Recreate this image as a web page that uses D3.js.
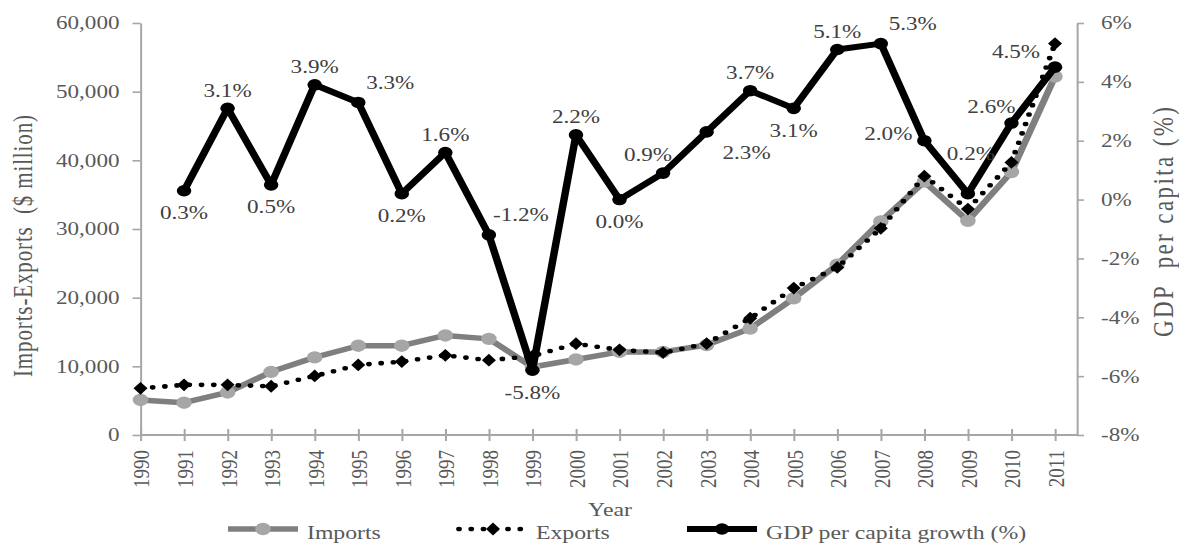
<!DOCTYPE html>
<html>
<head>
<meta charset="utf-8">
<script src="https://cdn.jsdelivr.net/npm/d3@7/dist/d3.min.js"></script>
<style>
  body { margin: 0; background: #fff; }
  svg { display: block; }
  text { font-family: "Liberation Serif", "Times New Roman", serif; }
</style>
</head>
<body>
<svg id="chart"></svg>
<script>
const years = [1990, 1991, 1992, 1993, 1994, 1995, 1996, 1997, 1998, 1999, 2000,
               2001, 2002, 2003, 2004, 2005, 2006, 2007, 2008, 2009, 2010, 2011]
const imports = [5100, 4700, 6200, 9200, 11300, 13000, 13000, 14500, 14000, 9900, 11000,
                 12100, 12100, 13100, 15500, 19900, 24800, 31100, 36900, 31200, 38300, 52200]
const exportsVals = [6800, 7300, 7300, 7100, 8600, 10200, 10700, 11600, 10900, 11500, 13300,
                     12400, 12000, 13300, 17000, 21400, 24400, 30100, 37700, 32900, 39700, 57000]
const gdpGrowth = [null, 0.3, 3.1, 0.5, 3.9, 3.3, 0.2, 1.6, -1.2, -5.8, 2.2,
                   0.0, 0.9, 2.3, 3.7, 3.1, 5.1, 5.3, 2.0, 0.2, 2.6, 4.5]
// where each growth label sits relative to its point
const gdpLabelSpot = ['', 'b', 'a', 'b', 'a', 'ar', 'b', 'a', 'ar', 'b', 'a',
                      'b', 'aL', 'br', 'a', 'b', 'a', 'ar', 'l', 'aa', 'al', 'L']
const leftTicks = [0, 10000, 20000, 30000, 40000, 50000, 60000]
const rightTicks = [-8, -6, -4, -2, 0, 2, 4, 6]
const seriesNames = ['Imports', 'Exports', 'GDP per capita growth (%)']

// the reference is stretched sideways, so draw in narrower units and let the viewBox stretch it
const sx = 1.25
const px = v => v / sx
const width = 1179, height = 544

const svg = d3.select('#chart')
    .attr('width', width)
    .attr('height', height)
    .attr('viewBox', `0 0 ${width / sx} ${height}`)
    .attr('preserveAspectRatio', 'none')

const axisColor = '#a6a6a6', textColor = '#595959'

let x = d3.scalePoint().domain(years).range([px(140.5), px(1055)])
let yL = d3.scaleLinear().domain([0, 60000]).range([435, 23])
let yR = d3.scaleLinear().domain([-8, 6]).range([435, 23])

// left axis
let gL = svg.append('g')
    .attr('transform', `translate(${px(140.5)},0)`)
    .call(d3.axisLeft(yL).tickValues(leftTicks).tickFormat(d3.format(','))
        .tickSizeInner(px(8)).tickSizeOuter(0).tickPadding(px(13)))
// right axis
let gR = svg.append('g')
    .attr('transform', `translate(${px(1077)},0)`)
    .call(d3.axisRight(yR).tickValues(rightTicks).tickFormat(d => d + '%')
        .tickSizeInner(px(7)).tickSizeOuter(0).tickPadding(px(17)))

;[gL, gR].forEach(g => {
    g.select('.domain').attr('stroke', axisColor).attr('stroke-width', 1.6)
    g.selectAll('.tick line').attr('stroke', axisColor).attr('stroke-width', 1.6)
    g.selectAll('.tick text').attr('fill', textColor).attr('font-size', 18.5)
        .style('font-family', '"Liberation Serif", "Times New Roman", serif')
})

// bottom axis, line runs on to the right axis
let gX = svg.append('g')
    .attr('transform', 'translate(0,435)')
    .call(d3.axisBottom(x).tickSizeOuter(0).tickSizeInner(6))
gX.select('.domain').remove()
gX.append('line')
    .attr('x1', px(140.5)).attr('x2', px(1077))
    .attr('stroke', axisColor).attr('stroke-width', 1.8)
gX.selectAll('.tick line')
    .attr('y1', -6).attr('y2', 6)
    .attr('stroke', axisColor).attr('stroke-width', 1.6)
gX.selectAll('.tick text')
    .attr('transform', 'rotate(-90)')
    .attr('text-anchor', 'end')
    .attr('x', -15).attr('y', 0).attr('dy', '0.35em')
    .attr('fill', textColor).attr('font-size', 19)
    .style('font-family', '"Liberation Serif", "Times New Roman", serif')

// axis titles
svg.append('text')
    .attr('transform', `translate(${px(22.5)},246) rotate(-90)`)
    .attr('text-anchor', 'middle').attr('dy', '0.35em')
    .attr('font-size', 21).attr('fill', textColor)
    .attr('textLength', 262)
    .style('white-space', 'pre')
    .text('Imports-Exports  ($ million)')
svg.append('text')
    .attr('transform', `translate(${px(1163)},222) rotate(-90)`)
    .attr('text-anchor', 'middle').attr('dy', '0.35em')
    .attr('font-size', 23).attr('fill', textColor)
    .attr('textLength', 230)
    .style('white-space', 'pre')
    .text('GDP  per capita (%)')
svg.append('text')
    .attr('x', px(610)).attr('y', 516)
    .attr('text-anchor', 'middle')
    .attr('font-size', 19).attr('fill', textColor)
    .text('Year')

const diamond = 'M0,-6.4L5.6,0L0,6.4L-5.6,0Z'

// imports
let lineL = d3.line().x((d, i) => x(years[i])).y(d => yL(d))
svg.append('path')
    .attr('d', lineL(imports))
    .attr('fill', 'none').attr('stroke', '#7f7f7f').attr('stroke-width', 5.5)
    .attr('stroke-linejoin', 'round')
svg.selectAll('.imp')
    .data(imports)
    .enter()
    .append('circle')
        .attr('class', 'imp')
        .attr('cx', (d, i) => x(years[i]))
        .attr('cy', d => yL(d))
        .attr('r', 6.2)
        .attr('fill', '#a6a6a6')

// exports
svg.append('path')
    .attr('d', lineL(exportsVals))
    .attr('fill', 'none').attr('stroke', '#000').attr('stroke-width', 4.6)
    .attr('stroke-dasharray', '0 9.8').attr('stroke-linecap', 'round')
svg.selectAll('.exp')
    .data(exportsVals)
    .enter()
    .append('path')
        .attr('class', 'exp')
        .attr('d', diamond)
        .attr('transform', (d, i) => `translate(${x(years[i])},${yL(d)})`)
        .attr('fill', '#000')

// gdp growth
let lineR = d3.line().defined(d => d != null).x((d, i) => x(years[i])).y(d => yR(d))
svg.append('path')
    .attr('d', lineR(gdpGrowth))
    .attr('fill', 'none').attr('stroke', '#000').attr('stroke-width', 6)
    .attr('stroke-linejoin', 'round')
const gdpPts = gdpGrowth.map((v, i) => ({ year: years[i], v, spot: gdpLabelSpot[i] }))
    .filter(d => d.v != null)
svg.selectAll('.gdp')
    .data(gdpPts)
    .enter()
    .append('circle')
        .attr('class', 'gdp')
        .attr('cx', d => x(d.year))
        .attr('cy', d => yR(d.v))
        .attr('r', 5.8)
        .attr('fill', '#000')

const spotOffset = {
    a: [0, -18], b: [0, 22], ar: [32, -20], br: [40, 21], aL: [-15, -19],
    l: [-36, -7], al: [-20, -17], L: [-39, -16], aa: [3, -40]
}
svg.selectAll('.gdpLabel')
    .data(gdpPts)
    .enter()
    .append('text')
        .attr('class', 'gdpLabel')
        .attr('x', d => x(d.year) + px(spotOffset[d.spot][0]))
        .attr('y', d => yR(d.v) + spotOffset[d.spot][1])
        .attr('dy', '0.35em')
        .attr('text-anchor', 'middle')
        .attr('font-size', 18.5)
        .attr('fill', '#404040')
        .text(d => d.v.toFixed(1) + '%')

// legend
const legendX = [228, 457, 687]
let legend = svg.selectAll('.legend')
    .data(seriesNames)
    .enter()
    .append('g')
        .attr('class', 'legend')
        .attr('transform', (d, i) => `translate(${px(legendX[i])},529)`)
legend.each(function (d, i) {
    let g = d3.select(this)
    let len = px(70)
    let line = g.append('line').attr('x1', 0).attr('x2', len)
    if (i == 0) {
        line.attr('stroke', '#7f7f7f').attr('stroke-width', 5.5)
        g.append('circle').attr('cx', len / 2).attr('cy', 0).attr('r', 6.2).attr('fill', '#a6a6a6')
    } else if (i == 1) {
        line.attr('x1', px(2)).attr('x2', px(68))
            .attr('stroke', '#000').attr('stroke-width', 4.6)
            .attr('stroke-dasharray', '0 9.8').attr('stroke-linecap', 'round')
        g.append('path').attr('d', diamond).attr('transform', `translate(${px(36)},0)`).attr('fill', '#000')
    } else {
        line.attr('stroke', '#000').attr('stroke-width', 6)
        g.append('circle').attr('cx', len / 2).attr('cy', 0).attr('r', 5.8).attr('fill', '#000')
    }
    g.append('text')
        .attr('x', len + px(9)).attr('y', 10)
        .attr('font-size', 19).attr('fill', textColor)
        .text(d)
})
</script>
</body>
</html>
